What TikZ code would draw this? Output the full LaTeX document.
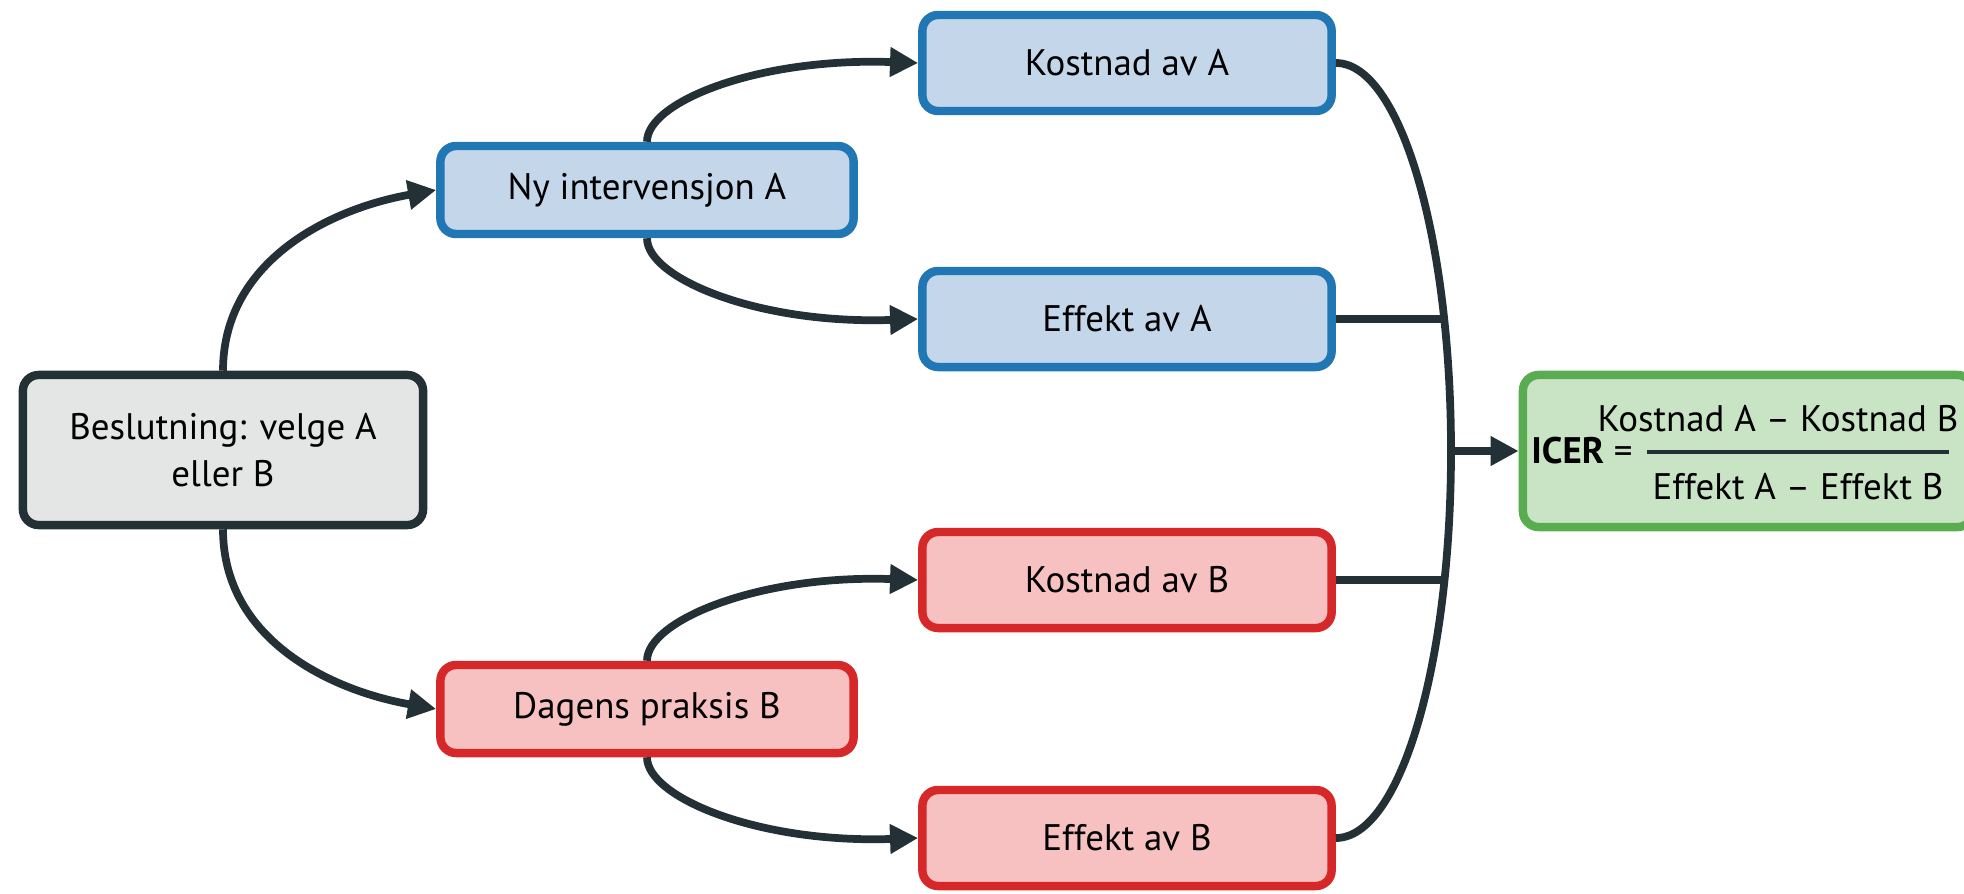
\documentclass[tikz,border=0pt]{standalone}
\usepackage{fontspec}
\setmainfont{PT Sans}
\usepackage{tikz}
\usetikzlibrary{arrows.meta}

\definecolor{linkcol}{RGB}{35,49,55}
\definecolor{grayline}{RGB}{35,49,55}
\definecolor{grayfill}{RGB}{228,229,229}
\definecolor{blueline}{RGB}{33,118,180}
\definecolor{bluefill}{RGB}{195,214,234}
\definecolor{redline}{RGB}{214,40,40}
\definecolor{redfill}{RGB}{248,193,193}
\definecolor{greenline}{RGB}{89,173,80}
\definecolor{greenfill}{RGB}{201,228,196}

\begin{document}
\begin{tikzpicture}[x=0.01cm, y=0.01cm,
        box/.style={draw, line width=2.4pt, rounded corners=4.5pt, align=center,
            inner sep=0pt, font=\fontsize{10.5}{13.5}\selectfont},
        optbox/.style={box, minimum width=4.13cm, minimum height=0.88cm},
        resbox/.style={box, minimum width=4.09cm, minimum height=0.96cm},
        txt/.style={font=\fontsize{10.5}{13.5}\selectfont, inner sep=0pt},
        link/.style={draw=linkcol, line width=2.2pt},
        edge/.style={link, -{Triangle[length=8pt, width=8pt]}}]
        \useasboundingbox (0,0) rectangle (1964,893);

        % 决策
        \node[box, draw=grayline, fill=grayfill, minimum width=4cm, minimum height=1.5cm] (besl) at (223,443) {Beslutning: velge A\\eller B};

        % 两个方案
        \node[optbox, draw=blueline, fill=bluefill] (nyA) at (647,703) {Ny intervensjon A};
        \node[optbox, draw=redline, fill=redfill] (dagB) at (647,184) {Dagens praksis B};

        % 成本与效果
        \node[resbox, draw=blueline, fill=bluefill] (kostA) at (1127,830) {Kostnad av A};
        \node[resbox, draw=blueline, fill=bluefill] (effA) at (1127,574) {Effekt av A};
        \node[resbox, draw=redline, fill=redfill] (kostB) at (1127,313) {Kostnad av B};
        \node[resbox, draw=redline, fill=redfill] (effB) at (1127,55) {Effekt av B};

        % ICER
        \node[box, draw=greenline, fill=greenfill, minimum width=4.5cm, minimum height=1.52cm] (icer) at (1748,442) {};
        \node[txt] (icerlbl) at (1582,442) {\textbf{ICER} =};
        \node[txt] (icernum) at (1778,474) {Kostnad A – Kostnad B};
        \node[txt] (icerden) at (1798,406) {Effekt A – Effekt B};
        \draw[linkcol, line width=1.1pt] (1647,441) -- (1949,441);

        % 箭头
        \draw[edge] (besl.north) to[out=90, in=190] (nyA.west);
        \draw[edge] (besl.south) to[out=-90, in=170] (dagB.west);
        \draw[edge] (nyA.north) to[out=90, in=178, out distance=0.4cm, in distance=1.6cm] (kostA.west);
        \draw[edge] (nyA.south) to[out=-90, in=182, out distance=0.4cm, in distance=1.6cm] (effA.west);
        \draw[edge] (dagB.north) to[out=90, in=178, out distance=0.4cm, in distance=1.6cm] (kostB.west);
        \draw[edge] (dagB.south) to[out=-90, in=182, out distance=0.4cm, in distance=1.6cm] (effB.west);

        % 汇总
        \coordinate (join) at (1451,442);
        \coordinate (joinA) at (1446,574);
        \coordinate (joinB) at (1446,313);
        \draw[link] (kostA.east) .. controls (1400,830) and (1451,656) .. (join)
            .. controls (1451,228) and (1400,55) .. (effB.east);
        \draw[link] (effA.east) -- (joinA);
        \draw[link] (kostB.east) -- (joinB);
        \draw[edge] (join) -- (icer.west);
\end{tikzpicture}
\end{document}
